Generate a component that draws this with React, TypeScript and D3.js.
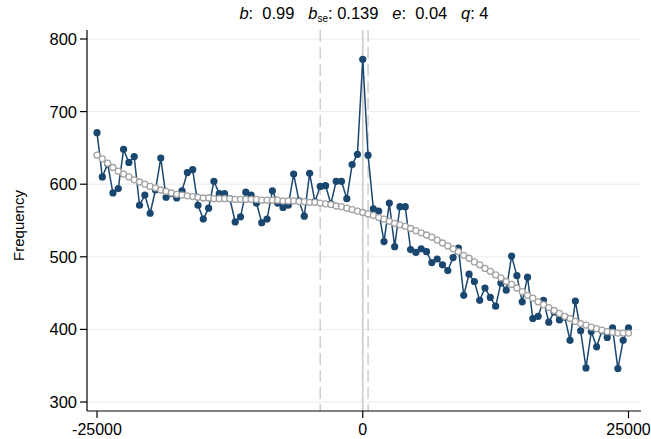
import React from 'react';
import * as d3 from 'd3';

// bin midpoints, -25000..25000 step 500
const bins = d3.range(-25000, 25001, 500);

const observed = [
  671, 610, 628, 588, 594, 648, 630, 638, 571, 585,
  560, 592, 636, 582, 587, 581, 591, 616, 620, 571,
  552, 567, 604, 587, 587, 580, 548, 555, 589, 585,
  574, 547, 552, 591, 574, 568, 571, 614, 577, 556,
  615, 576, 597, 598, 573, 604, 604, 580, 627, 641,
  772, 640, 566, 563, 521, 574, 514, 569, 569, 510,
  506, 511, 507, 492, 497, 489, 481, 499, 512, 447,
  476, 466, 440, 457, 444, 432, 464, 454, 501, 474,
  438, 472, 415, 418, 440, 410, 424, 413, 417, 385,
  439, 398, 347, 397, 376, 398, 389, 402, 346, 385,
  402,
];

const counterfactual = [
  640, 635, 629, 623, 618, 614, 610, 606, 603, 600,
  597, 595, 592, 590, 588, 586, 585, 584, 583, 582,
  581, 581, 580, 580, 580, 580, 579, 579, 579, 579,
  579, 578, 578, 578, 578, 577, 577, 577, 576, 576,
  575, 575, 574, 573, 572, 570, 569, 567, 565, 563,
  561, 559, 557, 554, 552, 549, 546, 544, 542, 539,
  536, 533, 530, 527, 523, 519, 515, 511, 507, 502,
  498, 493, 489, 484, 480, 475, 471, 466, 462, 457,
  452, 447, 443, 438, 434, 430, 426, 422, 418, 415,
  411, 408, 406, 403, 401, 399, 397, 396, 395, 395,
  395,
];

const yTicks = [300, 400, 500, 600, 700, 800];
const xTicks = [-25000, 0, 25000];
const dashedLines = [-4000, 500];
const solidLines = [0];

const W = 651;
const H = 439;
const font = "'Liberation Sans', Arial, sans-serif";
const navy = '#1a476f';
const lineGrey = '#cfcfcf';

export default function App() {
  const x = d3.scaleLinear().domain([-25000, 25000]).range([97, 628.5]);
  const y = d3.scaleLinear().domain([300, 800]).range([402, 39]);
  const left = 87, right = 641, top = 30, bottom = 411;

  const line = d3.line<number>()
    .x((_, i) => x(bins[i]))
    .y(d => y(d));

  return (
    <svg width={W} height={H} style={{ position: 'absolute', left: 0, top: 0, background: '#fff' }}
      fontFamily={font}>
      {yTicks.map(t => (
        <line key={'g' + t} x1={left} x2={right} y1={y(t)} y2={y(t)} stroke="#e6eef0" strokeWidth={1} />
      ))}
      {dashedLines.map(v => (
        <line key={'d' + v} x1={x(v)} x2={x(v)} y1={top} y2={bottom} stroke={lineGrey}
          strokeWidth={1.5} strokeDasharray="12,5" />
      ))}
      {solidLines.map(v => (
        <line key={'s' + v} x1={x(v)} x2={x(v)} y1={top} y2={bottom} stroke={lineGrey} strokeWidth={1.8} />
      ))}

      <path d={line(observed) || ''} fill="none" stroke={navy} strokeWidth={1.5} />
      {observed.map((d, i) => (
        <circle key={'o' + i} cx={x(bins[i])} cy={y(d)} r={3.6} fill={navy} />
      ))}
      {counterfactual.map((d, i) => (
        <circle key={'c' + i} cx={x(bins[i])} cy={y(d)} r={3} fill="#fff" stroke="#a3a3a3" strokeWidth={1.3} />
      ))}

      {/* axes */}
      <line x1={left} x2={left} y1={top} y2={bottom} stroke="#000" strokeWidth={1.2} />
      <line x1={left} x2={right} y1={bottom} y2={bottom} stroke="#000" strokeWidth={1.2} />
      {yTicks.map(t => (
        <g key={'yt' + t}>
          <line x1={left - 7} x2={left} y1={y(t)} y2={y(t)} stroke="#000" strokeWidth={1.2} />
          <text x={left - 10} y={y(t)} dy="0.36em" textAnchor="end" fontSize={16.5}>{t}</text>
        </g>
      ))}
      {xTicks.map(t => (
        <g key={'xt' + t}>
          <line x1={x(t)} x2={x(t)} y1={bottom} y2={bottom + 7} stroke="#000" strokeWidth={1.2} />
          <text x={x(t)} y={bottom + 24} textAnchor="middle" fontSize={16}>{t}</text>
        </g>
      ))}

      <text transform={`translate(24,${(top + bottom) / 2 + 5}) rotate(-90)`} textAnchor="middle" fontSize={15}>
        Frequency
      </text>

      <text x={(left + right) / 2} y={19} textAnchor="middle" fontSize={16.5} xmlSpace="preserve">
        <tspan fontStyle="italic">b</tspan>
        <tspan>:  0.99   </tspan>
        <tspan fontStyle="italic">b</tspan>
        <tspan fontSize={10} dy={3}>se</tspan>
        <tspan dy={-3}>: 0.139   </tspan>
        <tspan fontStyle="italic">e</tspan>
        <tspan>:  0.04   </tspan>
        <tspan fontStyle="italic">q</tspan>
        <tspan>: 4</tspan>
      </text>
    </svg>
  );
}
